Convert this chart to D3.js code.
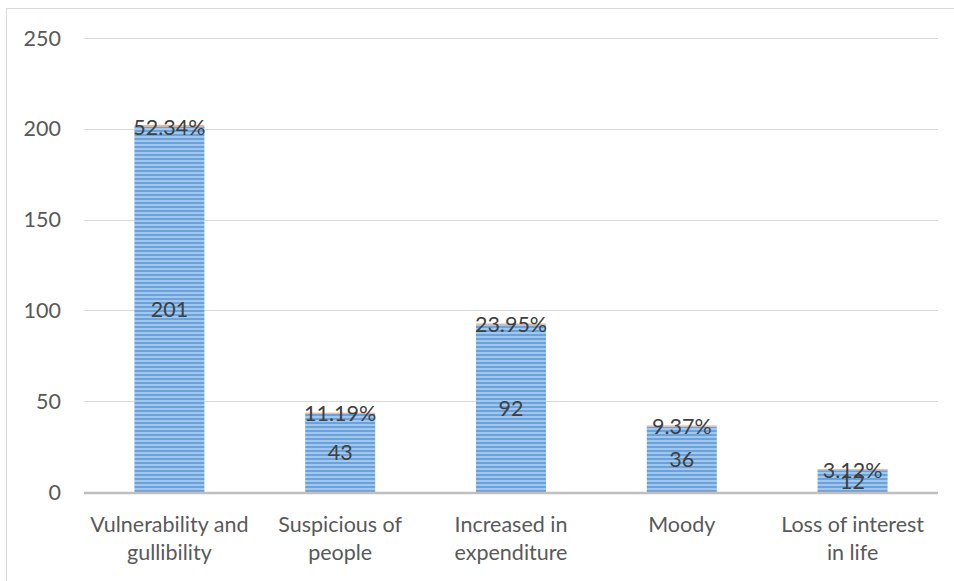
<!DOCTYPE html>
<html>
<head>
<meta charset="utf-8">
<script src="https://cdn.jsdelivr.net/npm/d3@7"></script>
<style>
  body { margin: 0; background: #fff; }
  svg { display: block; font-family: Lato, "Open Sans", sans-serif; }
</style>
</head>
<body>
<svg width="954" height="581"></svg>
<script>
const categories = [
  ["Vulnerability and", "gullibility"],
  ["Suspicious of", "people"],
  ["Increased in", "expenditure"],
  ["Moody"],
  ["Loss of interest", "in life"]
];
const counts = [201, 43, 92, 36, 12];
const percents = [52.34, 11.19, 23.95, 9.37, 3.12];
const yTicks = [0, 50, 100, 150, 200, 250];

const svg = d3.select("svg");
const fs = 21.5;

// outer frame (left, top, right running off the page)
svg.append("path")
  .attr("d", "M6.5,581 V8.5 H954")
  .attr("fill", "none")
  .attr("stroke", "#d9d9d9")
  .attr("stroke-width", 1);

// stripe pattern for the bars
const defs = svg.append("defs");
const pat = defs.append("pattern")
  .attr("id", "stripes")
  .attr("patternUnits", "userSpaceOnUse")
  .attr("width", 8)
  .attr("height", 4);
pat.append("rect").attr("width", 8).attr("height", 4).attr("fill", "#a3c7ec");
pat.append("rect").attr("y", 2).attr("width", 8).attr("height", 2).attr("fill", "#6aa2db");

const x = d3.scaleBand()
  .domain(d3.range(categories.length))
  .range([84, 938])
  .paddingInner(0.59)
  .paddingOuter(0.295);

const y = d3.scaleLinear().domain([0, 250]).range([492, 38]);

// gridlines + tick labels
svg.append("g")
  .selectAll("line")
  .data(yTicks.filter(d => d > 0))
  .enter()
  .append("line")
  .attr("x1", 84).attr("x2", 938)
  .attr("y1", d => Math.round(y(d)) + 0.5)
  .attr("y2", d => Math.round(y(d)) + 0.5)
  .attr("stroke", "#d9d9d9")
  .attr("stroke-width", 1);

svg.append("g")
  .selectAll("text")
  .data(yTicks)
  .enter()
  .append("text")
  .attr("x", 61)
  .attr("y", d => y(d))
  .attr("dy", "0.35em")
  .attr("text-anchor", "end")
  .attr("font-size", fs)
  .attr("fill", "#595959")
  .text(d => d);

// bars: count + thin percent segment stacked on top
const bars = svg.append("g");
bars.selectAll(".bar")
  .data(counts)
  .enter()
  .append("rect")
  .classed("bar", true)
  .attr("x", (d, i) => x(i))
  .attr("width", x.bandwidth())
  .attr("y", d => y(d))
  .attr("height", d => y(0) - y(d))
  .attr("fill", "url(#stripes)");

bars.selectAll(".pct")
  .data(percents)
  .enter()
  .append("rect")
  .classed("pct", true)
  .attr("x", (d, i) => x(i))
  .attr("width", x.bandwidth())
  .attr("y", (d, i) => y(counts[i] + d / 100) - 1)
  .attr("height", (d, i) => y(counts[i]) - y(counts[i] + d / 100) + 1)
  .attr("fill", "#f4b183");

// zero axis line
svg.append("line")
  .attr("x1", 84).attr("x2", 938)
  .attr("y1", y(0) + 1).attr("y2", y(0) + 1)
  .attr("stroke", "#bfbfbf")
  .attr("stroke-width", 2.5);

// value labels
svg.append("g")
  .selectAll("text")
  .data(counts)
  .enter()
  .append("text")
  .attr("x", (d, i) => x(i) + x.bandwidth() / 2)
  .attr("y", d => (y(d) + y(0)) / 2)
  .attr("dy", "0.35em")
  .attr("text-anchor", "middle")
  .attr("font-size", fs)
  .attr("fill", "#404040")
  .text(d => d);

svg.append("g")
  .selectAll("text")
  .data(percents)
  .enter()
  .append("text")
  .attr("x", (d, i) => x(i) + x.bandwidth() / 2)
  .attr("y", (d, i) => y(counts[i]))
  .attr("dy", "0.35em")
  .attr("text-anchor", "middle")
  .attr("font-size", fs)
  .attr("fill", "#404040")
  .text(d => d.toFixed(2) + "%");

// category labels
const cat = svg.append("g")
  .selectAll("text")
  .data(categories)
  .enter()
  .append("text")
  .attr("x", (d, i) => x(i) + x.bandwidth() / 2)
  .attr("y", 524)
  .attr("text-anchor", "middle")
  .attr("font-size", fs)
  .attr("fill", "#595959");
cat.selectAll("tspan")
  .data(d => d)
  .enter()
  .append("tspan")
  .attr("x", function () { return d3.select(this.parentNode).attr("x"); })
  .attr("dy", (d, j) => j === 0 ? "0.35em" : 28)
  .text(d => d);
</script>
</body>
</html>
